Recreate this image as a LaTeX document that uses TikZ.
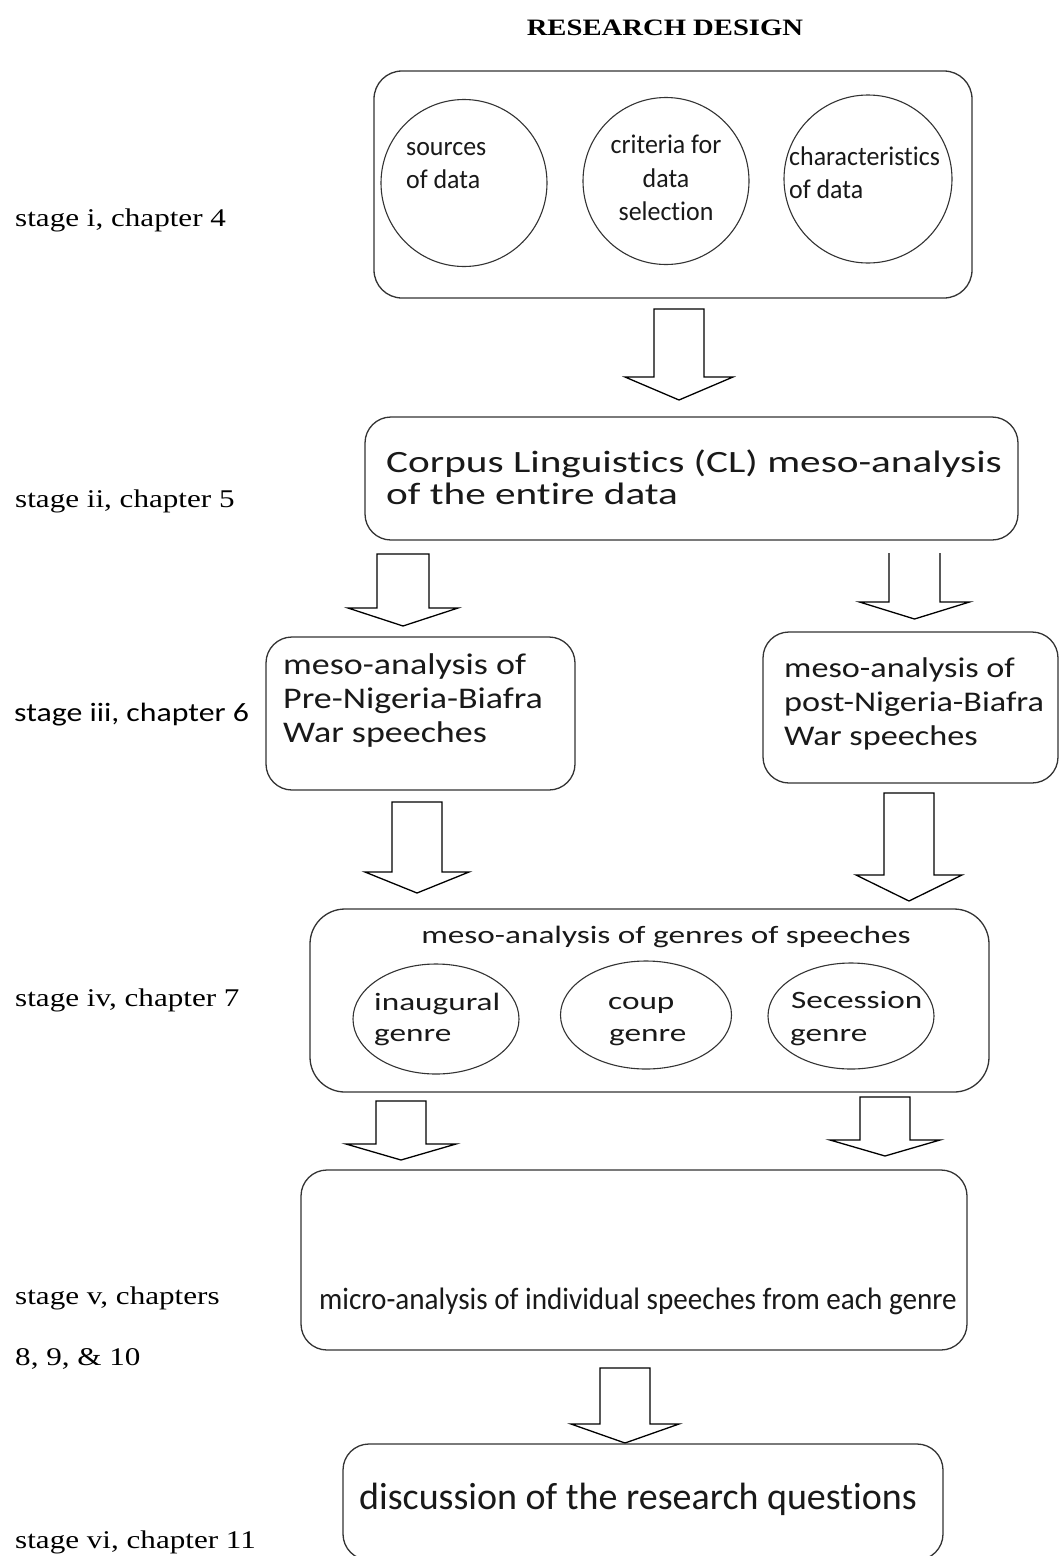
\documentclass[tikz,border=0pt]{standalone}
\usepackage{fontspec}
\setmainfont{Liberation Serif}
\usetikzlibrary{shapes.geometric}
% Type faces used in the chart
\newfontfamily\fSerif[FakeStretch=1.22]{Liberation Serif}
\newfontfamily\fPlain[FakeStretch=0.96,Ligatures=NoCommon]{Carlito}
\newfontfamily\fBig[Ligatures=NoCommon]{Carlito}
\newfontfamily\fWide[FakeStretch=1.2,Ligatures=NoCommon]{Carlito}
\newfontfamily\fWider[FakeStretch=1.33,Ligatures=NoCommon]{Carlito}
\newfontfamily\fNarrow[FakeStretch=0.94,Ligatures=NoCommon]{Carlito}
% Hollow block arrow: centre x, top y, shaft bottom y, tip y, half shaft width, half head width
\newcommand\blockarrow[6]{%
  \draw[arrowline] ({#1-#5},#2) -- ({#1+#5},#2) -- ({#1+#5},#3) -- ({#1+#6},#3)
    -- (#1,#4) -- ({#1-#6},#3) -- ({#1-#5},#3) -- cycle;}
% Same arrow with an open top
\newcommand\openarrow[6]{%
  \draw[arrowline] ({#1-#5},#2) -- ({#1-#5},#3) -- ({#1-#6},#3)
    -- (#1,#4) -- ({#1+#6},#3) -- ({#1+#5},#3) -- ({#1+#5},#2);}
\begin{document}
\begin{tikzpicture}[x=1pt,y=-1pt,
  box/.style={draw=black!80, line width=1.3pt, rounded corners=26pt, inner sep=0pt},
  blob/.style={draw=black!80, line width=1.1pt, ellipse, inner sep=0pt},
  arrowline/.style={draw=black, line width=1.3pt, line join=miter},
  lbl/.style={inner sep=0pt, anchor=base west, text=black!90},
  ctr/.style={inner sep=0pt, anchor=base, text=black!90},
  serif/.style={lbl, text=black, font=\fSerif\fontsize{25.5}{30}\selectfont}]
\useasboundingbox (0,0) rectangle (1061,1556);
\fill[white] (0,0) rectangle (1061,1556);

% heading
\node[ctr, text=black, font=\fSerif\bfseries\fontsize{23.5}{28}\selectfont] (title) at (665,35) {RESEARCH DESIGN};

% stage labels
\node[serif] (s1) at (15,226) {stage i, chapter 4};
\node[serif] (s2) at (15,507) {stage ii, chapter 5};
\node[lbl, text=black, font=\fWide\fontsize{26.5}{32}\selectfont] (s3) at (14,721) {stage iii, chapter 6};
\node[serif] (s4) at (15,1006) {stage iv, chapter 7};
\node[serif] (s5a) at (15,1304) {stage v, chapters};
\node[serif] (s5b) at (15,1365) {8, 9, \& 10};
\node[serif] (s6) at (15,1548) {stage vi, chapter 11};

% stage i: data
\node[box, rounded corners=28pt, minimum width=598pt, minimum height=227pt] (data) at (673,184.5) {};
\node[blob, minimum width=166pt, minimum height=167pt] (src) at (464,183) {};
\node[blob, minimum width=166pt, minimum height=167pt] (crit) at (666,181) {};
\node[blob, minimum width=168pt, minimum height=168pt] (chars) at (868,179) {};
\begin{scope}[every node/.append style={font=\fPlain\fontsize{27}{32}\selectfont}]
  \node[lbl] (src1) at (406,155) {sources};
  \node[lbl] (src2) at (406,188) {of data};
  \node[ctr] (crit1) at (666,153) {criteria for};
  \node[ctr] (crit2) at (666,187) {data};
  \node[ctr] (crit3) at (666,220) {selection};
  \node[lbl] (chars1) at (789,165) {characteristics};
  \node[lbl] (chars2) at (789,198) {of data};
\end{scope}

\blockarrow{679}{309}{377}{400}{25}{54}

% stage ii: corpus analysis
\node[box, minimum width=653pt, minimum height=123pt] (cl) at (691.5,478.5) {};
\node[lbl, font=\fWider\fontsize{31}{36}\selectfont] (cl1) at (386,472) {Corpus Linguistics (CL) meso-analysis};
\node[lbl, font=\fWider\fontsize{31}{36}\selectfont] (cl2) at (386,504) {of the entire data};

\blockarrow{403}{554}{608}{626}{26}{55}
\openarrow{914.5}{553}{602}{619}{25.5}{55}

% stage iii: pre and post war speeches
\node[box, minimum width=309pt, minimum height=153pt] (pre) at (420.5,713.5) {};
\begin{scope}[every node/.append style={font=\fWide\fontsize{30}{34}\selectfont}]
  \node[lbl] (pre1) at (283,674) {meso-analysis of};
  \node[lbl] (pre2) at (283,708) {Pre-Nigeria-Biafra};
  \node[lbl] (pre3) at (283,742) {War speeches};
\end{scope}
\node[box, minimum width=295pt, minimum height=151pt] (post) at (910.5,707.5) {};
\begin{scope}[every node/.append style={font=\fWide\fontsize{28.5}{34}\selectfont}]
  \node[lbl] (post1) at (784,677) {meso-analysis of};
  \node[lbl] (post2) at (784,711) {post-Nigeria-Biafra};
  \node[lbl] (post3) at (784,745) {War speeches};
\end{scope}

\blockarrow{417}{802}{872}{893}{25}{52}
\blockarrow{909}{793}{875}{901}{25}{53}

% stage iv: genres
\node[box, rounded corners=35pt, minimum width=679pt, minimum height=183pt] (gen) at (649.5,1000.5) {};
\node[blob, minimum width=166pt, minimum height=110pt] (inau) at (436,1019) {};
\node[blob, minimum width=171pt, minimum height=108pt] (coup) at (646,1015) {};
\node[blob, minimum width=166pt, minimum height=106pt] (sec) at (851,1016) {};
\begin{scope}[every node/.append style={font=\fWider\fontsize{25}{30}\selectfont}]
  \node[ctr] (gen0) at (666,943) {meso-analysis of genres of speeches};
  \node[lbl] (inau1) at (374,1010) {inaugural};
  \node[lbl] (inau2) at (374,1041) {genre};
  \node[lbl] (coup1) at (608,1009) {coup};
  \node[lbl] (coup2) at (609,1041) {genre};
  \node[lbl] (sec1) at (791,1008) {Secession};
  \node[lbl] (sec2) at (790,1041) {genre};
\end{scope}

\blockarrow{401}{1101}{1144}{1160}{25}{55}
\blockarrow{885}{1097}{1140}{1156}{25}{55}

% stage v: micro analysis
\node[box, minimum width=666pt, minimum height=180pt] (micro) at (634,1260) {};
\node[lbl, font=\fNarrow\fontsize{31}{36}\selectfont] (micro1) at (319,1309) {micro-analysis of individual speeches from each genre};

\blockarrow{625}{1368}{1424}{1443}{25}{54}

% stage vi: discussion
\node[box, minimum width=600pt, minimum height=116pt] (disc) at (643,1502) {};
\node[lbl, font=\fBig\fontsize{38}{44}\selectfont] (disc1) at (359,1509) {discussion of the research questions};
\end{tikzpicture}
\end{document}
